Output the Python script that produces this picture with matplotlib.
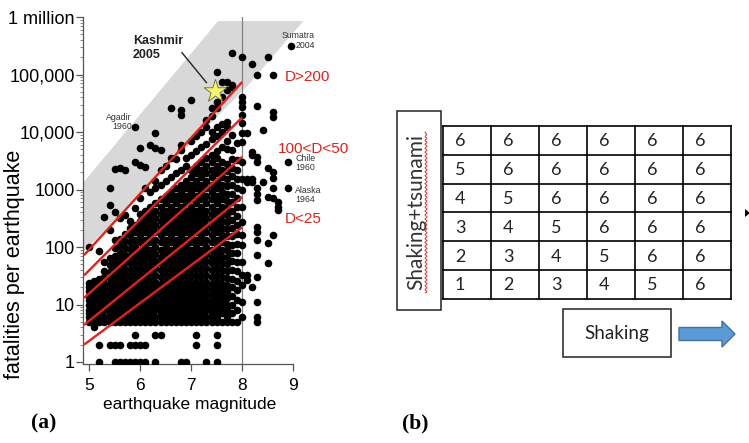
import numpy as np
import matplotlib
matplotlib.use("Agg")
import matplotlib.pyplot as plt
from matplotlib.patches import Polygon, Rectangle
from matplotlib.ticker import FixedLocator, LogLocator, NullFormatter

# ---------------------------------------------------------------------------
# Panel (a) data: fatalities per earthquake vs magnitude
# keys = magnitude, values = fatalities of the events plotted at that magnitude
# ---------------------------------------------------------------------------
quakes_m5 = {
    5.0: [5, 6, 7, 8, 10, 12, 14, 17, 20, 24, 100],
    5.1: [4, 5, 6, 8, 10, 13, 16, 20, 26],
    5.2: [1, 2, 5, 6, 7, 9, 11, 14, 18, 22, 28, 85],
    5.3: [5, 6, 8, 10, 12, 15, 19, 24, 30, 38, 55, 330],
    5.4: [2, 5, 6, 7, 9, 11, 14, 18, 23, 29, 37, 48, 65, 200, 540, 1070],
    5.5: [1, 2, 5, 6, 8, 10, 12, 15, 19, 24, 31, 40, 52, 70, 95, 130, 400, 2300],
    5.6: [1, 2, 5, 6, 7, 9, 11, 14, 18, 23, 29, 37, 48, 62, 80, 105, 140, 320, 2400],
    5.7: [1, 5, 6, 8, 10, 12, 15, 19, 25, 32, 42, 55, 72, 95, 125, 170, 360, 2200],
    5.8: [1, 2, 5, 6, 7, 9, 11, 14, 18, 23, 30, 40, 52, 70, 92, 120, 160, 210, 280],
    5.9: [1, 2, 3, 5, 6, 8, 10, 12, 15, 19, 25, 33, 44, 58, 76, 100, 135, 180, 240, 480, 3000],
}
quakes_m6 = {
    6.0: [1, 2, 5, 6, 7, 9, 11, 14, 18, 23, 30, 40, 52, 68, 90, 120, 160, 210, 280, 370, 720, 2700, 5300],
    6.1: [1, 2, 5, 6, 8, 10, 12, 15, 19, 25, 33, 44, 58, 76, 100, 135, 180, 240, 320, 430, 1070, 2450],
    6.2: [5, 6, 7, 9, 11, 14, 18, 23, 30, 40, 52, 68, 90, 120, 160, 210, 280, 370, 500, 900, 5900],
    6.3: [1, 3, 5, 6, 8, 10, 12, 15, 19, 25, 33, 44, 58, 76, 100, 135, 180, 240, 320, 430, 580, 1050,
          1400, 5300, 9800],
    6.4: [3, 5, 6, 7, 9, 11, 14, 18, 23, 30, 40, 52, 68, 90, 120, 160, 210, 280, 370, 500, 680, 1200,
          2200, 4900],
    6.5: [5, 6, 8, 10, 12, 15, 19, 25, 33, 44, 58, 76, 100, 135, 180, 240, 320, 430, 580, 780, 1400, 2600],
    6.6: [5, 6, 7, 9, 11, 14, 18, 23, 30, 40, 52, 68, 90, 120, 160, 210, 280, 370, 500, 680, 900, 1650,
          3500, 26000],
    6.7: [5, 6, 8, 10, 12, 15, 19, 25, 33, 44, 58, 76, 100, 135, 180, 240, 320, 430, 580, 780, 1050,
          1900, 3400],
    6.8: [1, 5, 6, 7, 9, 11, 14, 18, 23, 30, 40, 52, 68, 90, 120, 160, 210, 280, 370, 500, 680, 900,
          1200, 2200, 4900, 5900, 20000, 24000],
    6.9: [1, 5, 6, 8, 10, 12, 15, 19, 25, 33, 44, 58, 76, 100, 135, 180, 240, 320, 430, 580, 780, 1050,
          1400, 2600, 3500],
}
quakes_m7 = {
    7.0: [5, 6, 7, 9, 11, 14, 18, 23, 30, 40, 52, 68, 90, 120, 160, 210, 280, 370, 500, 680, 900, 1200,
          1650, 2200, 4000, 7000, 36000],
    7.1: [2, 3, 5, 6, 8, 10, 12, 15, 19, 25, 33, 44, 58, 76, 100, 135, 180, 240, 320, 430, 580, 780,
          1050, 1400, 1900, 2600, 4700, 8500],
    7.2: [5, 6, 7, 9, 11, 14, 18, 23, 30, 40, 52, 68, 90, 120, 160, 210, 280, 370, 500, 680, 900, 1200,
          1650, 2200, 3000, 5500, 10000],
    7.3: [1, 5, 6, 8, 10, 12, 15, 19, 25, 33, 44, 58, 76, 100, 135, 180, 240, 320, 430, 580, 780, 1050,
          1400, 1900, 2600, 3500, 6300, 12000, 16000],
    7.4: [5, 6, 7, 9, 11, 14, 18, 23, 30, 40, 52, 68, 90, 120, 160, 210, 280, 370, 500, 680, 900, 1200,
          1650, 2200, 3000, 4000, 7500, 10000, 19000, 26000],
    7.5: [1, 2, 3, 5, 6, 8, 10, 12, 15, 19, 25, 33, 44, 58, 76, 100, 135, 180, 240, 320, 430, 580, 780,
          1050, 1400, 1900, 2600, 3500, 4700, 8500, 12000, 26000, 33000, 110000],
    7.6: [5, 7, 9, 11, 14, 18, 23, 30, 40, 52, 68, 90, 120, 160, 210, 280, 370, 500, 680, 900, 1200,
          1650, 2200, 3000, 5500, 10000, 14000, 40000, 74000],
    7.7: [5, 6, 8, 10, 13, 17, 22, 29, 38, 50, 66, 88, 115, 155, 205, 270, 360, 480, 640, 850, 1150,
          1550, 2100, 2800, 5000, 7000, 12000, 15000, 54000, 74000],
    7.8: [5, 7, 10, 14, 20, 28, 40, 56, 78, 110, 155, 215, 300, 420, 600, 850, 1200, 1700, 2400, 3400,
          4800, 9000, 60000, 66000, 240000],
    7.9: [5, 8, 12, 18, 26, 38, 55, 80, 115, 165, 240, 350, 500, 720, 1050, 1500, 2200, 3200, 6500],
}
quakes_m8 = {
    8.0: [6, 11, 22, 32, 55, 108, 160, 270, 500, 980, 1500, 3000, 6700, 9600, 14500, 20000, 27000,
          33000, 41000, 200000],
    8.1: [27, 32, 1350, 1500, 9600],
    8.2: [20, 1350, 1500, 4000, 4500, 150000],
    8.3: [5, 6, 11, 30, 72, 130, 180, 220, 660, 850, 1070, 3000, 3700, 28000, 100000],
    8.4: [1350, 11000],
    8.5: [53, 118, 740, 2400, 200000],
    8.6: [160, 720, 1070, 1600, 2000, 18000, 22000, 100000],
    8.7: [440, 500, 600],
}

# labelled events
event_names = ["Agadir\n1960", "Sumatra", "Chile\n1960", "Alaska\n1964"]
event_mag = [5.9, 8.95, 8.9, 8.9]
event_deaths = [12000, 316000, 3000, 1070]
kashmir = (7.47, 52000)

# red damage-class lines (fatalities at magnitude 4.9 and 8.0)
line_mag = [4.9, 8.0]
line_start = [72, 32, 13, 4.4, 2.0]
line_end = [74000, 18000, 3700, 740, 220]

# grey band (magnitude, fatalities) corners
band_mag = [4.88, 8.08, 9.2, 7.53, 4.88]
band_deaths = [80, 60000, 850000, 850000, 1300]

ytick_vals = [1, 10, 100, 1000, 1e4, 1e5, 1e6]
ytick_labels = ["1", "10", "100", "1000", "10,000", "100,000", "1 million"]
xtick_vals = [5, 6, 7, 8, 9]

# ---------------------------------------------------------------------------
# Panel (b) data: damage class table
# ---------------------------------------------------------------------------
class_rows = [
    [6, 6, 6, 6, 6, 6],
    [5, 6, 6, 6, 6, 6],
    [4, 5, 6, 6, 6, 6],
    [3, 4, 5, 6, 6, 6],
    [2, 3, 4, 5, 6, 6],
    [1, 2, 3, 4, 5, 6],
]

W, H = 749, 443
fig = plt.figure(figsize=(W / 100, H / 100), dpi=100)
SANS = "Liberation Sans"
red = "#e3201c"

# ---- panel (a) ----
x0, x1, y0, y1 = 83, 320, 17, 364
ax = fig.add_axes([x0 / W, 1 - y1 / H, (x1 - x0) / W, (y1 - y0) / H])
ax.set_yscale("log")
ax.set_xlim(4.88, 4.88 + (x1 - x0) / 51)
ax.set_ylim(10 ** (-2 / 57.5), 1e6)
ax.patch.set_alpha(0)

ax.add_patch(Polygon(list(zip(band_mag, band_deaths)), closed=True,
                     facecolor="#d8d8d8", edgecolor="none", zorder=0))
ax.axvline(8.0, color="#808080", lw=0.9, zorder=1)

mags, deaths = [], []
for group in (quakes_m5, quakes_m6, quakes_m7, quakes_m8):
    for m, ds in group.items():
        mags += [m] * len(ds)
        deaths += ds
ax.scatter(mags, deaths, s=30, c="black", linewidths=0, zorder=3)
ax.scatter(event_mag, event_deaths, s=30, c="black", linewidths=0, zorder=3)

for d0, d1 in zip(line_start, line_end):
    ax.plot(line_mag, [d0, d1], color=red, lw=1.7, solid_capstyle="butt", zorder=4)

ax.scatter([kashmir[0]], [kashmir[1]], marker="*", s=300, facecolor="#f4f56a",
           edgecolor="#6b6b2a", linewidths=0.6, zorder=5)
ax.text(5.86, 10 ** 5.46, "Kashmir\n2005", fontsize=9, fontweight="bold", family=SANS,
        color="#222222", ha="left", va="center", linespacing=1.15, zorder=6)
ax.plot([6.82, 7.3], [10 ** 5.38, 10 ** 4.86], color="#222222", lw=1.0, zorder=6)

small = dict(fontsize=6.3, family=SANS, color="#333333", linespacing=0.95, va="center")
ax.text(5.84, 10 ** 4.17, event_names[0], ha="right", **small)
ax.text(8.78, 10 ** 5.67, event_names[1], ha="left", clip_on=False, **small)
ax.text(9.04, 10 ** 5.50, "2004", ha="left", clip_on=False, **small)
ax.text(9.04, 10 ** 3.46, event_names[2], ha="left", clip_on=False, **small)
ax.text(9.04, 10 ** 2.90, event_names[3], ha="left", clip_on=False, **small)

lab = dict(fontsize=11, family=SANS, color=red, ha="left", va="center", clip_on=False)
ax.text(8.84, 10 ** 4.96, "D>200", **lab)
ax.text(8.71, 10 ** 3.71, "100<D<50", **lab)
ax.text(8.84, 10 ** 2.49, "D<25", **lab)

for s in ("top", "right"):
    ax.spines[s].set_visible(False)
for s in ("left", "bottom"):
    ax.spines[s].set_color("#555555")
    ax.spines[s].set_linewidth(0.9)
ax.spines["bottom"].set_bounds(4.88, 9.0)

ax.xaxis.set_major_locator(FixedLocator(xtick_vals))
ax.set_xticklabels([str(v) for v in xtick_vals])
ax.yaxis.set_major_locator(FixedLocator(ytick_vals))
ax.set_yticklabels(ytick_labels)
ax.yaxis.set_minor_locator(LogLocator(base=10, subs=np.arange(2, 10)))
ax.yaxis.set_minor_formatter(NullFormatter())
ax.tick_params(axis="y", which="major", length=5, width=0.9, color="#555555", pad=1,
               labelsize=13)
ax.tick_params(axis="y", which="minor", length=2.5, width=0.6, color="#777777")
ax.tick_params(axis="x", which="major", length=5, width=0.9, color="#555555", pad=5,
               labelsize=12.5)
for t in ax.get_xticklabels() + ax.get_yticklabels():
    t.set_family(SANS)

fig.text(190 / W, 1 - 405 / H, "earthquake magnitude", fontsize=12.5, family=SANS,
         ha="center", va="center")
fig.text(15 / W, 1 - 264 / H, "fatalities per earthquake", fontsize=15.5, family=SANS,
         ha="center", va="center", rotation=90)

# ---- panel (b) on a pixel-coordinate overlay ----
ov = fig.add_axes([0, 0, 1, 1])
ov.set_xlim(0, W)
ov.set_ylim(H, 0)
ov.axis("off")

TF = "Lato"
ov.add_patch(Rectangle((397, 111), 44, 199, fill=False, edgecolor="#222222", lw=1.1))
ov.text(416, 212, "Shaking+tsunami", rotation=90, ha="center", va="center",
        fontsize=15, family=TF, color="#333333")
wy = np.linspace(293, 132, 160)
ov.plot(426 + 1.1 * np.sin(wy * 1.6), wy, color="#e03030", lw=0.7)

gx, gy, cw, rh = 443, 126, 48, 28.8
nr, nc = len(class_rows), len(class_rows[0])
for i in range(nr + 1):
    ov.plot([gx, gx + nc * cw], [gy + i * rh] * 2, color="black", lw=1.2)
for j in range(nc + 1):
    ov.plot([gx + j * cw] * 2, [gy, gy + nr * rh], color="black", lw=1.2)
for i, row in enumerate(class_rows):
    for j, v in enumerate(row):
        ov.text(gx + j * cw + 12, gy + (i + 0.5) * rh + 1, str(v), ha="left", va="center",
                fontsize=13, family=TF, color="#222222")

ov.add_patch(Rectangle((563, 309), 108, 48, fill=False, edgecolor="#222222", lw=1.1))
ov.text(617, 333, "Shaking", ha="center", va="center", fontsize=13.5, family=TF,
        color="#222222")
ov.add_patch(Polygon([(679, 327.5), (722, 327.5), (722, 321), (735, 334), (722, 347),
                      (722, 340.5), (679, 340.5)], closed=True,
                     facecolor="#5b9bd5", edgecolor="#41719c", lw=1.0))
ov.add_patch(Polygon([(745, 209), (750, 213), (745, 217)], closed=True,
                     facecolor="black", edgecolor="none"))

ov.text(44, 423, "(a)", fontsize=15.5, fontweight="bold", family="Liberation Serif",
        ha="center", va="center")
ov.text(415, 423, "(b)", fontsize=15.5, fontweight="bold", family="Liberation Serif",
        ha="center", va="center")

fig.savefig("out.png", dpi=100)
